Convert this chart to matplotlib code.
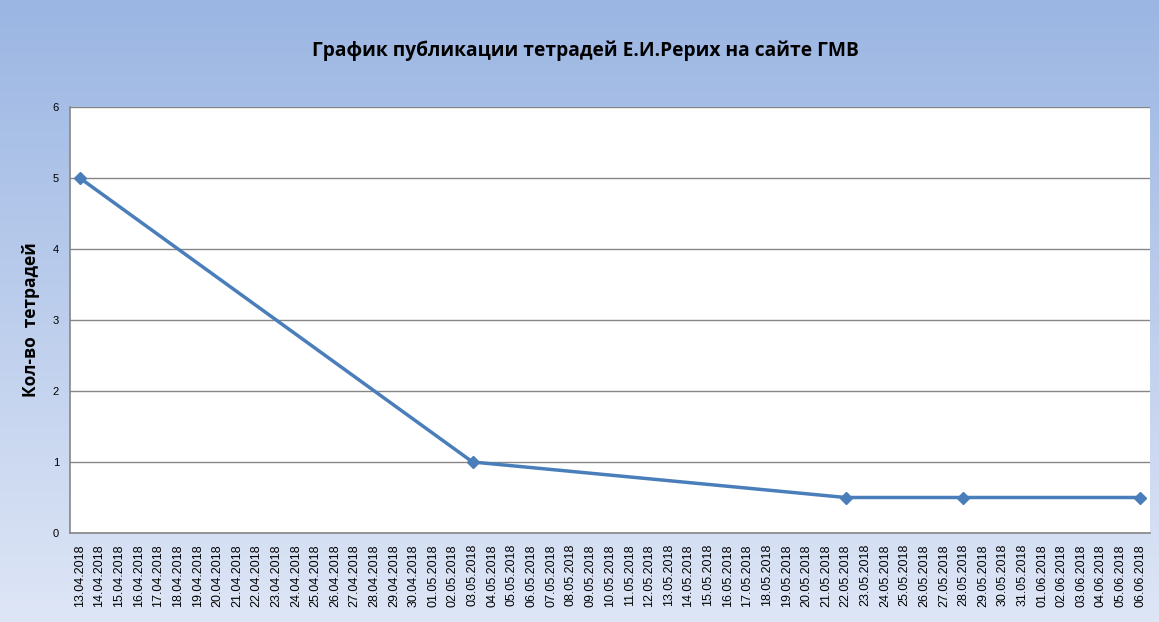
import numpy as np
import pandas as pd
import matplotlib
matplotlib.use("Agg")
import matplotlib.pyplot as plt

dates = pd.date_range("2018-04-13", "2018-06-06", freq="D")
date_labels = [d.strftime("%d.%m.%Y") for d in dates]

point_dates = ["13.04.2018", "03.05.2018", "22.05.2018", "28.05.2018", "06.06.2018"]
point_values = [5, 1, 0.5, 0.5, 0.5]

title = "График публикации тетрадей Е.И.Рерих на сайте ГМВ"
ylabel = "Кол-во  тетрадей"

fig = plt.figure(figsize=(11.59, 6.22), dpi=100)

# gradient background
bg = fig.add_axes([0, 0, 1, 1], zorder=0)
top = np.array([0x9b, 0xb6, 0xe3]) / 255
bot = np.array([0xde, 0xe6, 0xf6]) / 255
t = np.linspace(0, 1, 256)[:, None]
grad = top * (1 - t) + bot * t
bg.imshow(grad[:, None, :], aspect="auto", extent=[0, 1, 0, 1])
bg.set_axis_off()

ax = fig.add_axes([70 / 1159, 89 / 622, 1080 / 1159, 426 / 622], zorder=1)
ax.set_facecolor("white")

x = [date_labels.index(d) for d in point_dates]
ax.plot(x, point_values, color="#4a7ebb", lw=2.5, marker="D", ms=6, zorder=3)

ax.set_xlim(-0.5, len(date_labels) - 0.5)
ax.set_ylim(0, 6)
ax.set_yticks(range(0, 7))
ax.set_xticks(range(len(date_labels)))
ax.set_xticklabels(date_labels, rotation=90, fontsize=9, family="Liberation Sans")
for lbl in ax.get_yticklabels():
    lbl.set_fontsize(8)
    lbl.set_family("Liberation Sans")
ax.tick_params(length=0, pad=8)
ax.yaxis.grid(True, color="#868686", lw=1)
ax.set_axisbelow(True)
for s in ["top", "right"]:
    ax.spines[s].set_visible(False)
for s in ["left", "bottom"]:
    ax.spines[s].set_color("#868686")
    ax.spines[s].set_linewidth(1.2)

ax.set_ylabel(ylabel, fontsize=12.5, fontweight="bold", family="Open Sans", labelpad=9)
fig.text(0.505, 0.918, title, ha="center", va="center", fontsize=13.8,
         fontweight="bold", family="Open Sans")

fig.savefig("out.png", dpi=100)
